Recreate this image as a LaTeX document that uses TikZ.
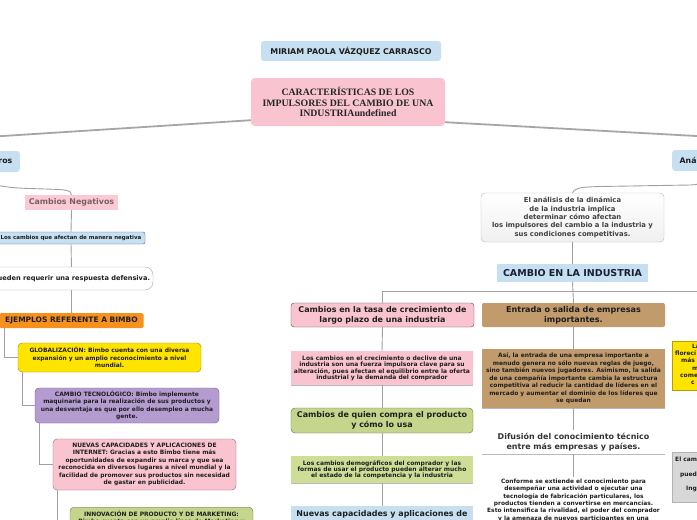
\documentclass[tikz,border=0pt]{standalone}
\usepackage{fontspec}
\setmainfont{DejaVu Sans}
\newfontfamily\serifb{Liberation Serif}
\definecolor{lblue}{RGB}{198,224,242}
\definecolor{pinkc}{RGB}{249,196,208}
\definecolor{yelc}{RGB}{255,228,0}
\definecolor{purp}{RGB}{181,156,208}
\definecolor{grn}{RGB}{197,214,140}
\definecolor{grnl}{RGB}{206,222,150}
\definecolor{orng}{RGB}{246,145,30}
\definecolor{tanc}{RGB}{194,155,108}
\definecolor{lgray}{RGB}{216,216,216}
\definecolor{lnc}{RGB}{160,160,160}
\definecolor{txt}{RGB}{30,30,30}
\definecolor{cnegtxt}{RGB}{125,95,98}
\definecolor{navytxt}{RGB}{25,30,55}
\begin{document}
\begin{tikzpicture}[x=1pt,y=-1pt,
  every node/.style={inner sep=0pt, align=center, text=txt},
  ln/.style={draw=lnc, line width=0.9pt},
  mainln/.style={draw=gray!70, line width=1.8pt},
  small/.style={font=\fontsize{5.95}{7.5}\selectfont\bfseries},
  tight/.style={font=\fontsize{6.0}{5.9}\selectfont\bfseries},
  head/.style={font=\fontsize{7.95}{9.8}\selectfont\bfseries},
]
\useasboundingbox (0,0) rectangle (697,520);
\clip (0,0) rectangle (697,520);
\fill[white] (0,0) rectangle (697,520);

% main nodes
\node[fill=lblue, rounded corners=3pt, minimum width=180, minimum height=20,
  font=\fontsize{7.9}{9}\selectfont\bfseries] (title) at (351,51) {MIRIAM PAOLA VÁZQUEZ CARRASCO};
\node[fill=pinkc, rounded corners=4pt, minimum width=194, minimum height=48, text=black!85,
  font=\serifb\fontsize{9.8}{10.6}\selectfont\bfseries] (main) at (348,102)
  {CARACTERÍSTICAS DE LOS\\IMPULSORES DEL CAMBIO DE UNA\\INDUSTRIAundefined};

\node[fill=lblue, rounded corners=3pt, anchor=east, minimum height=21, inner xsep=7.5pt,
  text width=60pt, align=right, font=\fontsize{7.8}{9}\selectfont\bfseries] (ros) at (20,161.5) {ros};
\node[fill=lblue, rounded corners=3pt, anchor=west, minimum height=21, inner xsep=7.5pt,
  text width=60pt, align=left, font=\fontsize{7.8}{9}\selectfont\bfseries] (ana0) at (672,160.5) {Aná};

\coordinate (Lend) at (-60,140);
\coordinate (Rend) at (760,139.5);
\draw[mainln] ([yshift=6pt]main.south west) -- (Lend);
\draw[mainln] ([yshift=4pt]main.south east) -- (Rend);

% left branch
\node[fill=pinkc!90, minimum width=93, minimum height=15, text=cnegtxt,
  font=\fontsize{7.9}{9}\selectfont\bfseries] (cneg) at (71.5,202.5) {Cambios Negativos};
\node[fill=lblue, draw=blue!30!gray, rounded corners=2pt, minimum width=148, minimum height=12,
  font=\fontsize{5.5}{6}\selectfont\bfseries] (lcn) at (71,238) {Los cambios que afectan de manera negativa};
\node[draw=gray!70, fill=white, rounded corners=8pt, minimum width=163, minimum height=23,
  font=\fontsize{6.6}{8}\selectfont\bfseries] (pdr) at (71.5,278.5) {pueden requerir una respuesta defensiva.};
\node[fill=orng, rounded corners=1.5pt, minimum width=144, minimum height=15,
  font=\fontsize{7.5}{8}\selectfont\bfseries] (ejem) at (71.5,320.5) {EJEMPLOS REFERENTE A BIMBO};
\node[fill=yelc, draw=yelc!60!black, rounded corners=4pt, minimum width=183, minimum height=29, small]
  (glob) at (109.5,357.5) {GLOBALIZACIÓN: Bimbo cuenta con una diversa\\expansión y un amplio reconocimiento a nivel\\mundial.};
\node[fill=purp, draw=purp!60!black, rounded corners=4pt, minimum width=184, minimum height=35, small]
  (tec) at (127,405.5) {CAMBIO TECNOLÓGICO: Bimbo implemente\\maquinaria para la realización de sus productos y\\una desventaja es que por ello desempleo a mucha\\gente.};
\node[fill=pinkc, draw=pinkc!55!black, rounded corners=4pt, minimum width=183, minimum height=51, small]
  (nue) at (144.5,464.5) {NUEVAS CAPACIDADES Y APLICACIONES DE\\INTERNET: Gracias a esto Bimbo tiene más\\oportunidades de expandir su marca y que sea\\reconocida en diversos lugares a nivel mundial y la\\facilidad de promover sus productos sin necesidad\\de gastar en publicidad.};
\node[fill=grn, draw=grn!55!black, rounded corners=4pt, minimum width=183, anchor=north,
  inner ysep=3.5pt, small] (inn) at (161.5,507) {INNOVACIÓN DE PRODUCTO Y DE MARKETING:\\Bimbo cuenta con un amplio línea de Marketing y\\\strut};

\draw[ln] (ros.south) .. controls (-17.5,189) and (20,188) .. (45,189) .. controls (65,189.5) and (71.5,190) .. (cneg.north);
\draw[ln] (cneg.south) -- (lcn.north);
\draw[ln] (lcn.south) -- (pdr.north);
\draw[ln] (pdr.south) -- (ejem.north);
\draw[ln] ([xshift=5.5pt]ejem.south west) |- (glob.west);
\draw[ln] ([xshift=5pt]glob.south west) |- (tec.west);
\draw[ln] ([xshift=5pt]tec.south west) |- (nue.west);
\draw[ln] ([xshift=5pt]nue.south west) |- ([yshift=-25pt]inn.north west);

% middle branch
\node[draw=gray!55, top color=white, bottom color=gray!12, rounded corners=4pt, minimum width=183,
  minimum height=49, text=black!75, font=\fontsize{6.85}{8.4}\selectfont\bfseries] (ana) at (572.5,217.5)
  {El análisis de la dinámica\\de la industria implica\\determinar cómo afectan\\los impulsores del cambio a la industria y\\sus condiciones competitivas.};
\node[fill=lblue, minimum width=151, minimum height=18, text=navytxt,
  font=\fontsize{9.5}{10}\selectfont\bfseries] (cei) at (572.5,273) {CAMBIO EN LA INDUSTRIA};

\node[fill=pinkc, draw=gray!60!black, rounded corners=3pt, minimum width=183, minimum height=24, head]
  (tasa) at (382.5,315) {Cambios en la tasa de crecimiento de\\largo plazo de una industria};
\node[fill=pinkc, minimum width=182, minimum height=34, tight] (ptx) at (382,368)
  {Los cambios en el crecimiento o declive de una\\industria son una fuerza impulsora clave para su\\alteración, pues afectan el equilibrio entre la oferta\\industrial y la demanda del comprador};
\node[fill=grn, draw=grn!50!black, rounded corners=4pt, minimum width=182, minimum height=25, head]
  (cq) at (382,420.5) {Cambios de quien compra el producto\\y cómo lo usa};
\node[fill=grnl, minimum width=182, minimum height=27, tight] (gsub) at (382,469.5)
  {Los cambios demográficos del comprador y las\\formas de usar el producto pueden alterar mucho\\el estado de la competencia y la industria};
\node[fill=lblue, minimum width=182, anchor=north, inner ysep=4pt, head] (ncap) at (382,506)
  {Nuevas capacidades y aplicaciones de\\Internet};

\node[fill=tanc, rounded corners=2pt, minimum width=183, minimum height=24,
  font=\fontsize{8.05}{9.8}\selectfont\bfseries]
  (ent) at (573.5,315) {Entrada o salida de empresas\\importantes.};
\node[fill=tanc, minimum width=183, minimum height=59, small] (tsub) at (573.5,378.5)
  {Así, la entrada de una empresa importante a\\menudo genera no sólo nuevas reglas de juego,\\sino también nuevos jugadores. Asimismo, la salida\\de una compañía importante cambia la estructura\\competitiva al reducir la cantidad de líderes en el\\mercado y aumentar el dominio de los líderes que\\se quedan};
\node[minimum width=183, minimum height=24, text=black!80, head] (dif) at (573.5,442)
  {Difusión del conocimiento técnico\\entre más empresas y países.};
\node[anchor=north, inner ysep=2pt, font=\fontsize{5.9}{7.3}\selectfont\bfseries] (conf) at (573.5,477)
  {Conforme se extiende el conocimiento para\\desempeñar una actividad o ejecutar una\\tecnología de fabricación particulares, los\\productos tienden a convertirse en mercancías.\\Esto intensifica la rivalidad, el poder del comprador\\y la amenaza de nuevos participantes en una};

\draw[gray!55, line width=0.8pt] (ptx.south west) -- (ptx.south east);
\draw[gray!55, line width=0.8pt] (gsub.south west) -- (gsub.south east);
\draw[gray!55, line width=0.8pt] (tsub.south west) -- (tsub.south east);
\draw[gray!55, line width=0.8pt] (dif.south west) -- (dif.south east);

\coordinate (busR) at (760,291);
\draw[ln] (ana.north) .. controls (575,187) and (585,187) .. (600,186.5) -- (690,185)
  .. controls (705,184.5) and (709.5,180) .. (ana0.south);
\draw[ln] (ana.south) -- (cei.north);
\draw[ln] (cei.south) -- (ent.north);
\draw[ln] (tasa.north) |- (busR);
\draw[ln] (tasa.south) -- (ptx.north);
\draw[ln] (ptx.south) -- (cq.north);
\draw[ln] (cq.south) -- (gsub.north);
\draw[ln] (gsub.south) -- (ncap.north);
\draw[ln] (ent.south) -- (tsub.north);
\draw[ln] (tsub.south) -- (dif.north);
\draw[ln] (dif.south) -- (conf.north);

% right partial column
\node[fill=yelc, draw=yelc!70!black, minimum width=90, minimum height=49, anchor=north west] (yel) at (672,341) {};
\node[anchor=base west, small] (y1) at (692,348.5) {La};
\node[anchor=base west, small] (y2) at (675,355.7) {florecí};
\node[anchor=base west, small] (y3) at (681,362.9) {más p};
\node[anchor=base west, small] (y4) at (692,370.1) {m};
\node[anchor=base west, small] (y5) at (680,377.3) {come};
\node[anchor=base west, small] (y6) at (691,384.5) {c};
\node[fill=lgray, draw=gray!60, minimum width=90, minimum height=50, anchor=north west] (gbox) at (672,452) {};
\node[anchor=base west, small] (g1) at (675,461) {El cam};
\node[anchor=base west, small] (g2) at (680,476) {pued};
\node[anchor=base west, small] (g3) at (686,490) {Ing};
\end{tikzpicture}
\end{document}
